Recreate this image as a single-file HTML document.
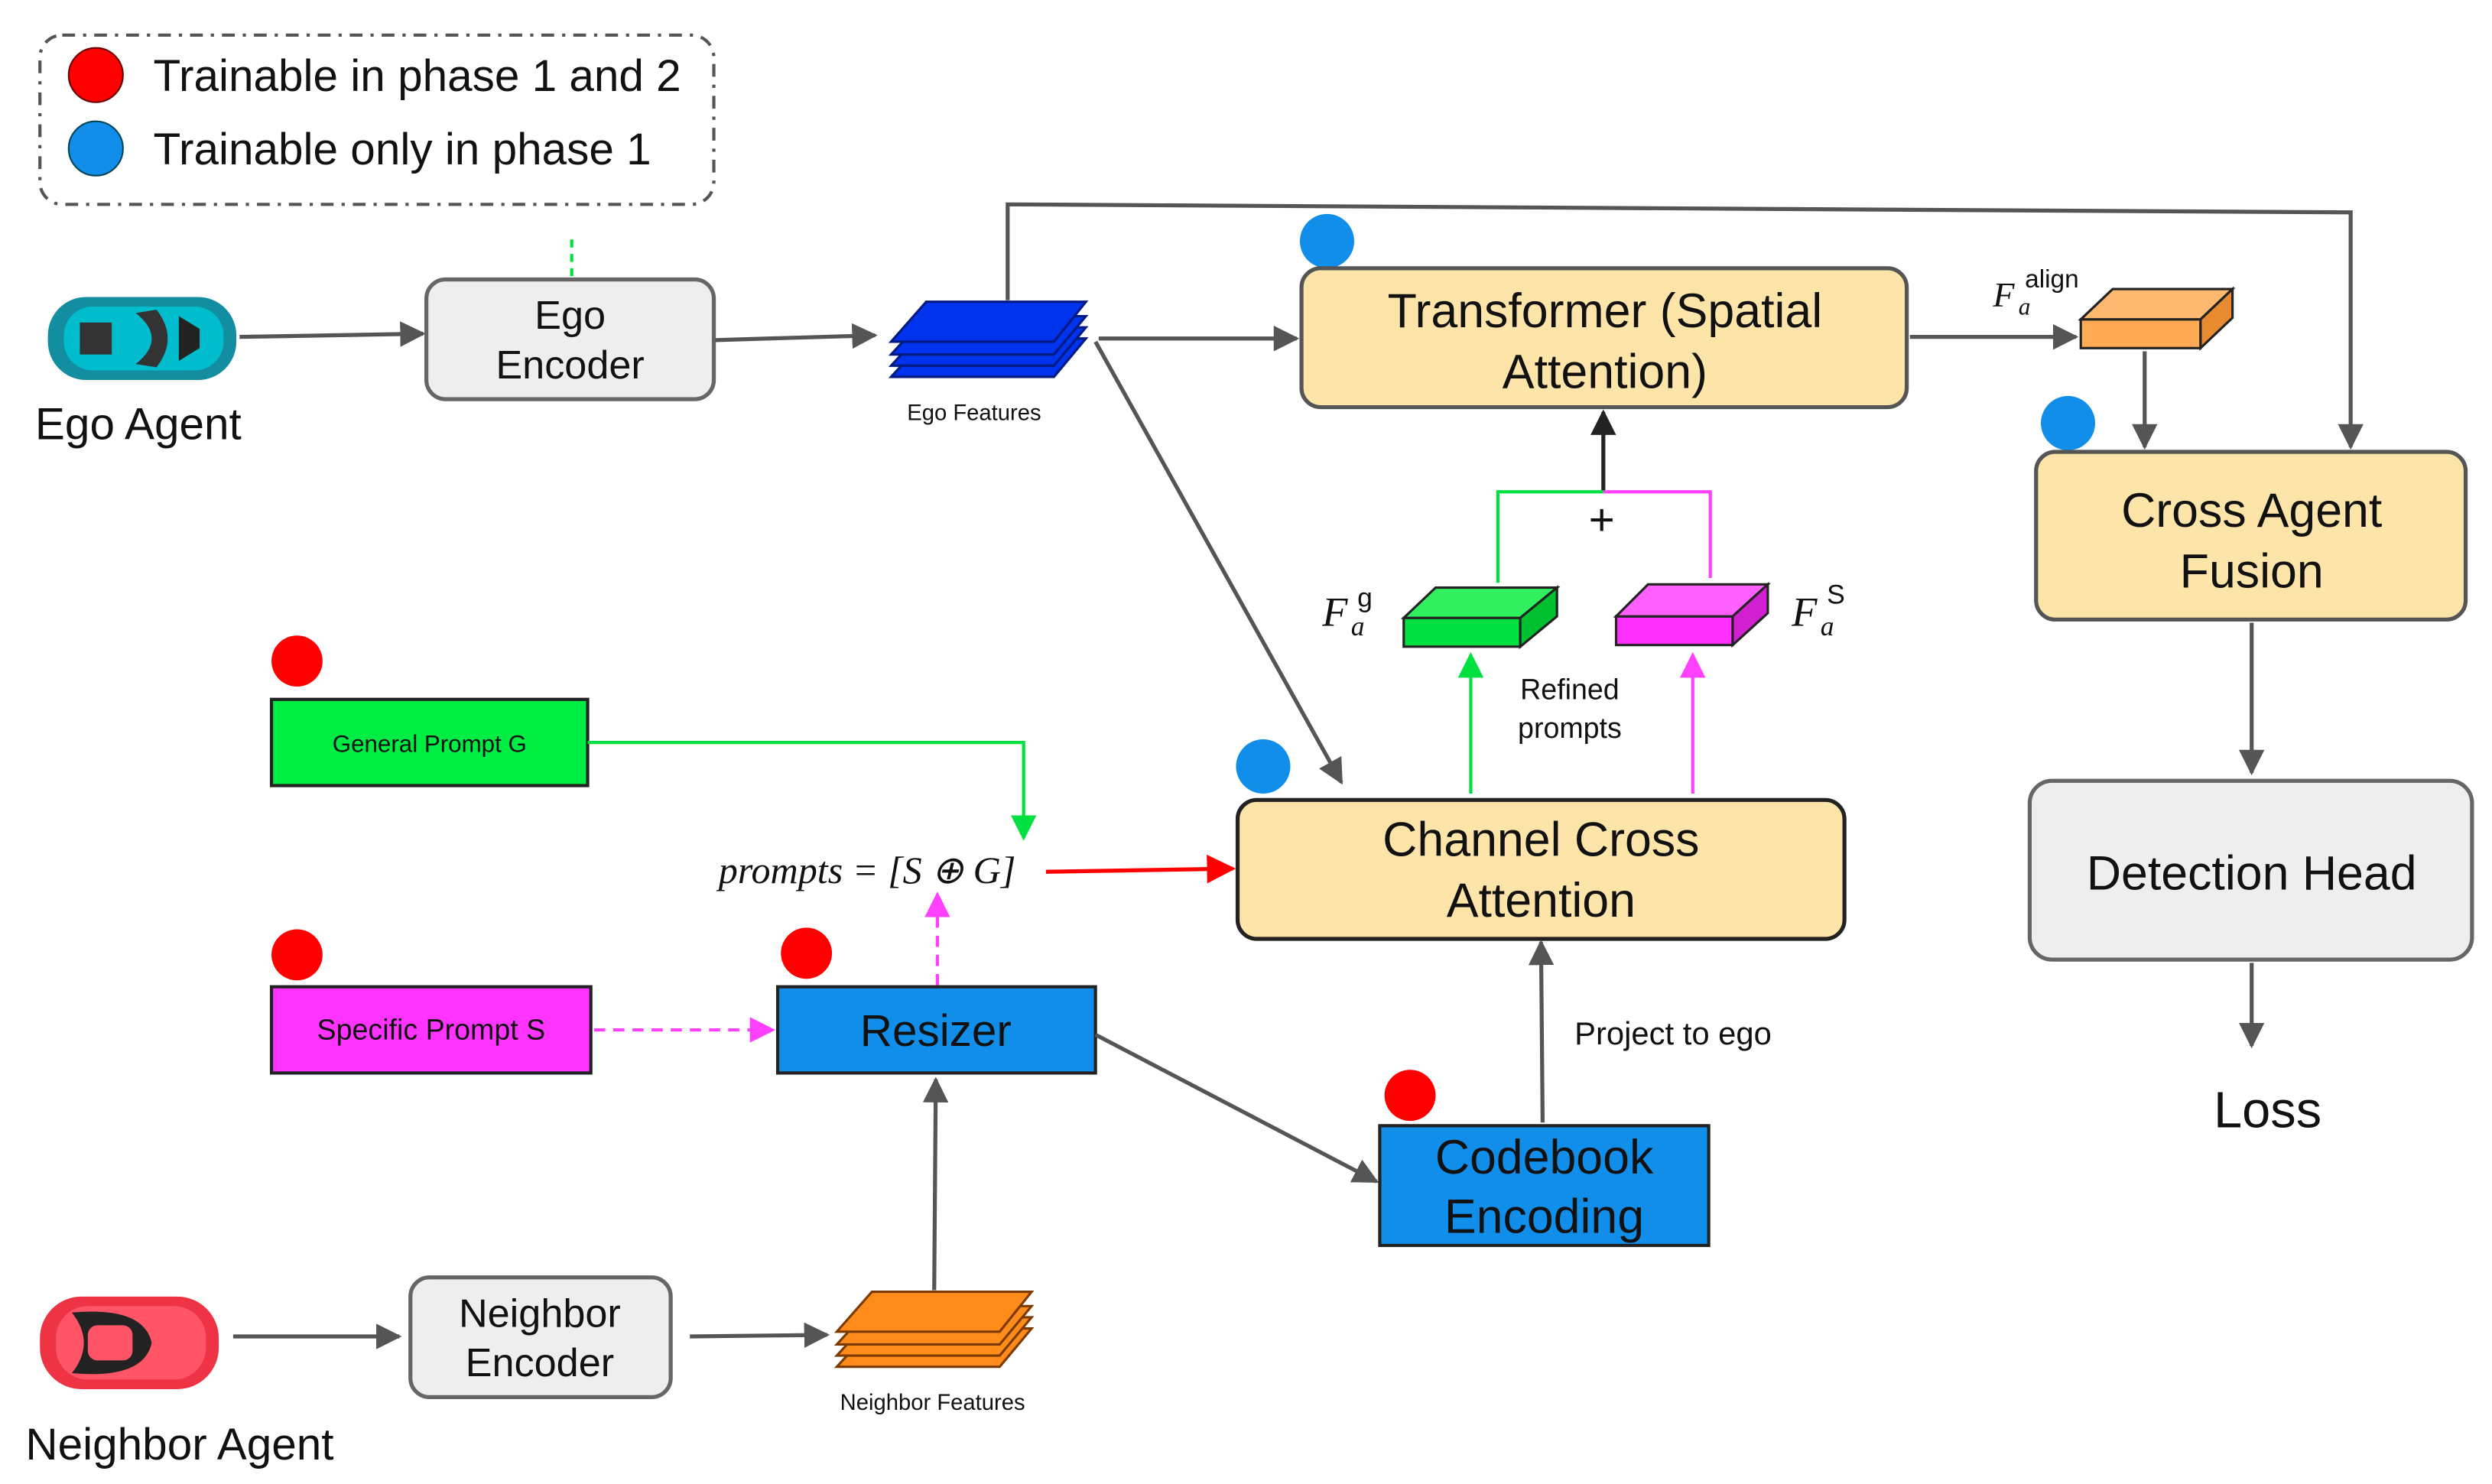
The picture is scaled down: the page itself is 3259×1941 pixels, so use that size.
<!DOCTYPE html>
<html><head><meta charset="utf-8"><style>
html,body{margin:0;padding:0;background:#fff;}
svg{display:block;}
text{font-family:"Liberation Sans",sans-serif;fill:#111;}
.s{font-family:"Liberation Serif",serif;font-style:italic;}
</style></head><body>
<svg width="3259" height="1941" viewBox="0 0 1560.5 929.4" preserveAspectRatio="none" xmlns="http://www.w3.org/2000/svg">
<defs>
<marker id="ag" viewBox="0 0 10 10" refX="9" refY="5" markerWidth="16" markerHeight="16" orient="auto" markerUnits="userSpaceOnUse"><path d="M0,0L10,5L0,10z" fill="#555"/></marker>
<marker id="ab" viewBox="0 0 10 10" refX="9" refY="5" markerWidth="16" markerHeight="16" orient="auto" markerUnits="userSpaceOnUse"><path d="M0,0L10,5L0,10z" fill="#222"/></marker>
<marker id="agr" viewBox="0 0 10 10" refX="9" refY="5" markerWidth="16" markerHeight="16" orient="auto" markerUnits="userSpaceOnUse"><path d="M0,0L10,5L0,10z" fill="#00e040"/></marker>
<marker id="am" viewBox="0 0 10 10" refX="9" refY="5" markerWidth="16" markerHeight="16" orient="auto" markerUnits="userSpaceOnUse"><path d="M0,0L10,5L0,10z" fill="#ff40ff"/></marker>
<marker id="ar" viewBox="0 0 10 10" refX="9" refY="5" markerWidth="18" markerHeight="18" orient="auto" markerUnits="userSpaceOnUse"><path d="M0,0L10,5L0,10z" fill="#f00"/></marker>
</defs>

<rect x="25" y="22" width="422" height="106" rx="14" fill="none" stroke="#555" stroke-width="2" stroke-dasharray="8,5,2,5"/>
<circle cx="60" cy="47" r="17" fill="#f00" stroke="#600" stroke-width="1"/>
<circle cx="60" cy="93" r="17" fill="#108ee9" stroke="#045" stroke-width="1"/>
<text x="96" y="57" font-size="28">Trainable in phase 1 and 2</text>
<text x="96" y="103" font-size="28">Trainable only in phase 1</text>

<g>
<rect x="30" y="186" width="118" height="52" rx="24" fill="#138ea0"/>
<rect x="40" y="192" width="100" height="40" rx="18" fill="#00bccc"/>
<rect x="50" y="202" width="20" height="20" fill="#333"/>
<path d="M85,196 Q105,212 85,228 L98,230 Q112,212 98,194z" fill="#333"/>
<path d="M112,198 L125,206 L125,218 L112,226z" fill="#222"/>
</g>
<text x="22" y="275" font-size="28">Ego Agent</text>

<line x1="150" y1="211" x2="265" y2="209" stroke="#555" stroke-width="2.5" marker-end="url(#ag)"/>
<rect x="267" y="175" width="180" height="75" rx="12" fill="#eee" stroke="#666" stroke-width="2.5"/>
<text x="357" y="206" font-size="25" text-anchor="middle">Ego</text>
<text x="357" y="237" font-size="25" text-anchor="middle">Encoder</text>
<line x1="358" y1="150" x2="358" y2="175" stroke="#00e040" stroke-width="2" stroke-dasharray="5,4"/>
<line x1="448" y1="213" x2="548" y2="210" stroke="#555" stroke-width="2.5" marker-end="url(#ag)"/>

<g fill="#0033ee" stroke="#001a80" stroke-width="1.5">
<polygon points="580,212 680,212 660,236 558,236"/>
<polygon points="580,205 680,205 660,229 558,229"/>
<polygon points="580,198 680,198 660,222 558,222"/>
<polygon points="580,189 680,189 660,214 558,214"/>
</g>
<text x="610" y="263" font-size="14" text-anchor="middle">Ego Features</text>

<polyline points="631,188 631,128 1472,133 1472,280" fill="none" stroke="#555" stroke-width="2.5" marker-end="url(#ag)"/>
<line x1="688" y1="212" x2="812" y2="212" stroke="#555" stroke-width="2.5" marker-end="url(#ag)"/>
<line x1="686" y1="214" x2="840" y2="490" stroke="#555" stroke-width="2.5" marker-end="url(#ag)"/>

<circle cx="831" cy="151" r="17" fill="#108ee9"/>
<rect x="815" y="168" width="379" height="87" rx="12" fill="#fde4a8" stroke="#555" stroke-width="2.5"/>
<text x="1005" y="205" font-size="30" text-anchor="middle">Transformer (Spatial</text>
<text x="1005" y="243" font-size="30" text-anchor="middle">Attention)</text>
<line x1="1196" y1="211" x2="1300" y2="211" stroke="#555" stroke-width="2.5" marker-end="url(#ag)"/>
<text x="1248" y="192" font-size="22" class="s">F</text>
<text x="1264" y="197" font-size="15" class="s">a</text>
<text x="1268" y="180" font-size="16" font-family="Liberation Serif">align</text>

<polygon points="1303,200 1378,200 1378,218 1303,218" fill="#ffaa55" stroke="#222" stroke-width="1.5"/>
<polygon points="1303,200 1323,181 1398,181 1378,200" fill="#ffb870" stroke="#222" stroke-width="1.5"/>
<polygon points="1378,200 1398,181 1398,199 1378,218" fill="#e88a30" stroke="#222" stroke-width="1.5"/>
<line x1="1343" y1="220" x2="1343" y2="280" stroke="#555" stroke-width="2.5" marker-end="url(#ag)"/>

<circle cx="1295" cy="265" r="17" fill="#108ee9"/>
<rect x="1275" y="283" width="269" height="105" rx="12" fill="#fde4a8" stroke="#555" stroke-width="2.5"/>
<text x="1410" y="330" font-size="30" text-anchor="middle">Cross Agent</text>
<text x="1410" y="368" font-size="30" text-anchor="middle">Fusion</text>
<line x1="1410" y1="390" x2="1410" y2="484" stroke="#555" stroke-width="2.5" marker-end="url(#ag)"/>
<rect x="1271" y="489" width="277" height="112" rx="14" fill="#eee" stroke="#666" stroke-width="2.5"/>
<text x="1410" y="557" font-size="30" text-anchor="middle">Detection Head</text>
<line x1="1410" y1="603" x2="1410" y2="655" stroke="#555" stroke-width="2.5" marker-end="url(#ag)"/>
<text x="1420" y="706" font-size="32" text-anchor="middle">Loss</text>

<line x1="1004" y1="308" x2="1004" y2="258" stroke="#222" stroke-width="2.5" marker-end="url(#ab)"/>
<polyline points="938,365 938,308 1004,308" fill="none" stroke="#00e040" stroke-width="2"/>
<polyline points="1004,308 1071,308 1071,362" fill="none" stroke="#ff40ff" stroke-width="2"/>
<text x="1003" y="335" font-size="28" text-anchor="middle" fill="#333">+</text>

<polygon points="879,387 952,387 952,405 879,405" fill="#00e040" stroke="#222" stroke-width="1.5"/>
<polygon points="879,387 899,368 975,368 952,387" fill="#30f060" stroke="#222" stroke-width="1.5"/>
<polygon points="952,387 975,368 975,386 952,405" fill="#00c030" stroke="#222" stroke-width="1.5"/>
<polygon points="1012,386 1085,386 1085,404 1012,404" fill="#ff30ff" stroke="#222" stroke-width="1.5"/>
<polygon points="1012,386 1032,366 1107,366 1085,386" fill="#ff60ff" stroke="#222" stroke-width="1.5"/>
<polygon points="1085,386 1107,366 1107,384 1085,404" fill="#d020d0" stroke="#222" stroke-width="1.5"/>
<text x="828" y="392" font-size="26" class="s">F</text>
<text x="846" y="398" font-size="17" class="s">a</text>
<text x="850" y="380" font-size="17" font-family="Liberation Serif">g</text>
<text x="1122" y="392" font-size="26" class="s">F</text>
<text x="1140" y="398" font-size="17" class="s">a</text>
<text x="1144" y="378" font-size="17" font-family="Liberation Serif">S</text>
<text x="983" y="438" font-size="18" text-anchor="middle">Refined</text>
<text x="983" y="462" font-size="18" text-anchor="middle">prompts</text>
<line x1="921" y1="497" x2="921" y2="410" stroke="#00e040" stroke-width="2" marker-end="url(#agr)"/>
<line x1="1060" y1="497" x2="1060" y2="410" stroke="#ff40ff" stroke-width="2" marker-end="url(#am)"/>

<circle cx="791" cy="480" r="17" fill="#108ee9"/>
<rect x="775" y="501" width="380" height="87" rx="12" fill="#fde4a8" stroke="#222" stroke-width="2.5"/>
<text x="965" y="536" font-size="30" text-anchor="middle">Channel Cross</text>
<text x="965" y="574" font-size="30" text-anchor="middle">Attention</text>

<circle cx="186" cy="414" r="16" fill="#f00"/>
<rect x="170" y="438" width="198" height="54" fill="#00ee44" stroke="#222" stroke-width="2"/>
<text x="269" y="471" font-size="15" text-anchor="middle">General Prompt G</text>
<polyline points="368,465 641,465 641,525" fill="none" stroke="#00e040" stroke-width="2" marker-end="url(#agr)"/>
<text x="450" y="553" font-size="24" class="s">prompts = [S ⊕ G]</text>
<line x1="655" y1="546" x2="772" y2="544" stroke="#f00" stroke-width="2.5" marker-end="url(#ar)"/>

<circle cx="186" cy="598" r="16" fill="#f00"/>
<rect x="170" y="618" width="200" height="54" fill="#ff33ff" stroke="#222" stroke-width="2"/>
<text x="270" y="651" font-size="18" text-anchor="middle">Specific Prompt S</text>
<line x1="372" y1="645" x2="484" y2="645" stroke="#ff40ff" stroke-width="2" stroke-dasharray="7,5" marker-end="url(#am)"/>

<circle cx="505" cy="597" r="16" fill="#f00"/>
<rect x="487" y="618" width="199" height="54" fill="#108ee9" stroke="#222" stroke-width="2"/>
<text x="586" y="655" font-size="28" text-anchor="middle">Resizer</text>
<line x1="587" y1="617" x2="587" y2="560" stroke="#ff40ff" stroke-width="2" stroke-dasharray="7,5" marker-end="url(#am)"/>
<line x1="686" y1="648" x2="862" y2="740" stroke="#555" stroke-width="2.5" marker-end="url(#ag)"/>

<circle cx="883" cy="686" r="16" fill="#f00"/>
<rect x="864" y="705" width="206" height="75" fill="#108ee9" stroke="#222" stroke-width="2"/>
<text x="967" y="735" font-size="30" text-anchor="middle">Codebook</text>
<text x="967" y="772" font-size="30" text-anchor="middle">Encoding</text>
<line x1="966" y1="703" x2="965" y2="590" stroke="#555" stroke-width="2.5" marker-end="url(#ag)"/>
<text x="986" y="654" font-size="20">Project to ego</text>
<line x1="585" y1="808" x2="586" y2="676" stroke="#555" stroke-width="2.5" marker-end="url(#ag)"/>

<g>
<rect x="25" y="812" width="112" height="58" rx="26" fill="#ee3344"/>
<rect x="35" y="818" width="94" height="46" rx="20" fill="#ff5566"/>
<path d="M45,822 Q90,818 95,841 Q90,864 45,860 Q60,841 45,822z" fill="#222"/>
<rect x="55" y="830" width="28" height="22" rx="6" fill="#ff5566"/>
</g>
<text x="16" y="914" font-size="28">Neighbor Agent</text>
<line x1="146" y1="837" x2="250" y2="837" stroke="#555" stroke-width="2.5" marker-end="url(#ag)"/>
<rect x="257" y="800" width="163" height="75" rx="12" fill="#eee" stroke="#666" stroke-width="2.5"/>
<text x="338" y="831" font-size="25" text-anchor="middle">Neighbor</text>
<text x="338" y="862" font-size="25" text-anchor="middle">Encoder</text>
<line x1="432" y1="837" x2="518" y2="836" stroke="#555" stroke-width="2.5" marker-end="url(#ag)"/>
<g fill="#ff8c1a" stroke="#7a3a00" stroke-width="1.5">
<polygon points="546,832 646,832 626,856 524,856"/>
<polygon points="546,825 646,825 626,849 524,849"/>
<polygon points="546,818 646,818 626,842 524,842"/>
<polygon points="546,809 646,809 626,834 524,834"/>
</g>
<text x="584" y="883" font-size="14" text-anchor="middle">Neighbor Features</text>
</svg>
</body></html>
